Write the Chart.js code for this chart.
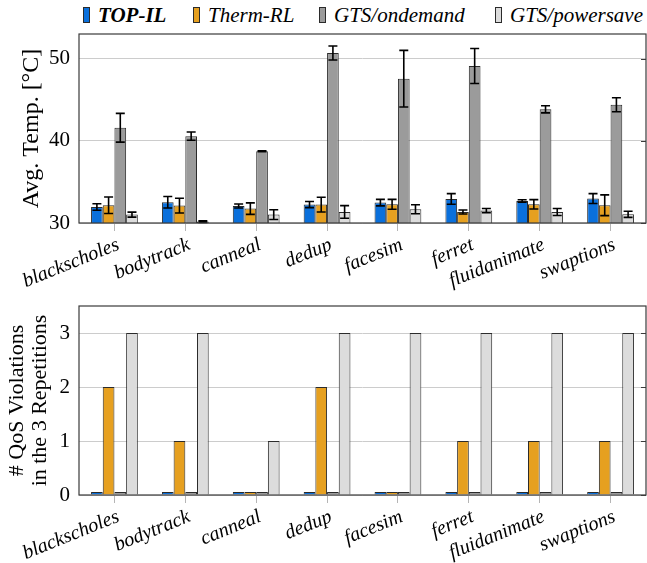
<!DOCTYPE html>
<html><head><meta charset="utf-8">
<script src="https://cdn.jsdelivr.net/npm/chart.js@4"></script>
<style>
html,body{margin:0;padding:0;background:#fff}
body{width:647px;height:563px;position:relative;overflow:hidden;font-family:"Liberation Serif",serif}
.item{position:absolute;top:4px;display:flex;align-items:center;font-style:italic;font-size:21px;color:#000;line-height:22px;white-space:nowrap}
.box{display:inline-block;width:5px;height:14px;border:1px solid #2b2b2b;margin-right:8px}
#c1{position:absolute;left:0;top:28px}
#c2{position:absolute;left:0;top:290px}
</style></head>
<body>
<div id="legend"></div>
<canvas id="c1" width="647" height="292"></canvas>
<canvas id="c2" width="647" height="273"></canvas>
<script>
const categories = ['blackscholes','bodytrack','canneal','dedup','facesim','ferret','fluidanimate','swaptions'];
const seriesNames = ['TOP-IL','Therm-RL','GTS/ondemand','GTS/powersave'];
const seriesColors = ['#0a70dc','#e6a020','#9b9b9b','#dcdcdc'];

const tempTopIL      = [31.95, 32.52, 32.07, 32.24, 32.48, 32.93, 32.68, 32.97];
const tempTopILErr   = [0.4, 0.7, 0.25, 0.37, 0.4, 0.65, 0.15, 0.6];
const tempThermRL    = [32.16, 32.12, 31.75, 32.24, 32.28, 31.34, 32.28, 32.16];
const tempThermRLErr = [1.0, 0.9, 0.7, 0.9, 0.6, 0.25, 0.57, 1.26];
const tempOndemand   = [41.59, 40.57, 38.74, 50.69, 47.56, 49.11, 43.83, 44.39];
const tempOndemandErr= [1.75, 0.5, 0.05, 0.85, 3.45, 2.13, 0.43, 0.85];
const tempPowersave  = [31.02, 30.17, 31.02, 31.34, 31.67, 31.51, 31.34, 31.06];
const tempPowersaveErr=[0.3, 0.1, 0.6, 0.77, 0.55, 0.25, 0.43, 0.37];

const qosTopIL     = [0,0,0,0,0,0,0,0];
const qosThermRL   = [2,1,0,2,0,1,1,1];
const qosOndemand  = [0,0,0,0,0,0,0,0];
const qosPowersave = [3,3,1,3,3,3,3,3];

const tempTicks = [30,40,50];
const qosTicks = [0,1,2,3];

// HTML legend
const legendLefts = [83,193,319,495];
const leg = document.getElementById('legend');
seriesNames.forEach((n,i)=>{
  const d=document.createElement('div'); d.className='item'; d.style.left=legendLefts[i]+'px';
  const b=document.createElement('span'); b.className='box'; b.style.background=seriesColors[i];
  const t=document.createElement('span'); t.textContent=n; if(i===0) t.style.fontWeight='bold';
  d.appendChild(b); d.appendChild(t); leg.appendChild(d);
});

const FAM = '"Liberation Serif", serif';

const errorBarPlugin = {
  id:'errbars',
  afterDatasetsDraw(chart){
    const ctx=chart.ctx, ys=chart.scales.y;
    chart.data.datasets.forEach((ds,i)=>{
      if(!ds.errors) return;
      const meta=chart.getDatasetMeta(i);
      meta.data.forEach((bar,j)=>{
        const v=ds.data[j], e=ds.errors[j];
        const x=bar.x, yt=ys.getPixelForValue(v+e), yb=ys.getPixelForValue(v-e);
        const hw=4.5;
        ctx.save(); ctx.strokeStyle='#000'; ctx.lineWidth=1.6;
        ctx.beginPath();
        ctx.moveTo(x,yt); ctx.lineTo(x,yb);
        ctx.moveTo(x-hw,yt); ctx.lineTo(x+hw,yt);
        ctx.moveTo(x-hw,yb); ctx.lineTo(x+hw,yb);
        ctx.stroke(); ctx.restore();
      });
    });
  }
};

const framePlugin = {
  id:'frame',
  afterDatasetsDraw(chart){
    const {ctx, chartArea:a} = chart; const ys=chart.scales.y;
    ctx.save();
    ctx.strokeStyle='#3a3a3a'; ctx.lineWidth=1.2;
    ctx.strokeRect(a.left, a.top, a.right-a.left, a.bottom-a.top);
    ctx.beginPath();
    ys.ticks.forEach(t=>{ const p=Math.round(ys.getPixelForValue(t.value))+0.5; ctx.moveTo(a.right-5,p); ctx.lineTo(a.right,p); });
    ctx.stroke();
    ctx.restore();
  }
};

function makeChart(id, data, errs, yopts, pad, xh, minBar){
  const datasets = data.map((d,i)=>({
    label: seriesNames[i], data: d, errors: errs ? errs[i] : undefined,
    backgroundColor: seriesColors[i], borderColor:'#2b2b2b', borderWidth:1,
    categoryPercentage:0.66, barPercentage:1.0, minBarLength: minBar
  }));
  return new Chart(document.getElementById(id), {
    type:'bar',
    data:{labels:categories, datasets},
    options:{
      responsive:false, animation:false,
      layout:{padding:pad},
      plugins:{legend:{display:false}, tooltip:{enabled:false}},
      scales:{
        x:{
          offset:true,
          grid:{offset:false, drawOnChartArea:false, drawTicks:true, tickLength:8, color:'#b5b5b5'},
          border:{display:false},
          ticks:{font:{family:FAM, style:'italic', size:20}, color:'#000', maxRotation:22, minRotation:22, padding:2, labelOffset:4, autoSkip:false},
          afterFit(s){ s.height = xh; s.paddingLeft = 0; s.paddingRight = 0; }
        },
        y:Object.assign({
          grid:{color:'#cccccc', drawTicks:false, lineWidth:1},
          border:{display:false},
          afterFit(s){ s.width = 79; s.paddingTop = 0; s.paddingBottom = 0; }
        }, yopts)
      }
    },
    plugins:[errorBarPlugin, framePlugin]
  });
}

makeChart('c1',
  [tempTopIL, tempThermRL, tempOndemand, tempPowersave],
  [tempTopILErr, tempThermRLErr, tempOndemandErr, tempPowersaveErr],
  {
    min:30, max:53,
    afterBuildTicks(s){ s.ticks = tempTicks.map(v=>({value:v})); },
    ticks:{font:{family:FAM, size:21}, color:'#000', padding:9},
    title:{display:true, text:'Avg. Temp. [°C]', font:{family:FAM, size:24, lineHeight:1.2}, color:'#000', padding:{top:17, bottom:0}}
  },
  {top:6, right:1, left:0, bottom:0}, 97, 0);

makeChart('c2',
  [qosTopIL, qosThermRL, qosOndemand, qosPowersave],
  null,
  {
    min:0, max:3.5,
    afterBuildTicks(s){ s.ticks = qosTicks.map(v=>({value:v})); },
    ticks:{font:{family:FAM, size:21}, color:'#000', padding:9},
    title:{display:true, text:['# QoS Violations','in the 3 Repetitions'], font:{family:FAM, size:22, lineHeight:1.05}, color:'#000', padding:{top:6, bottom:0}}
  },
  {top:16, right:1, left:0, bottom:0}, 68, 3);
</script>
</body></html>
